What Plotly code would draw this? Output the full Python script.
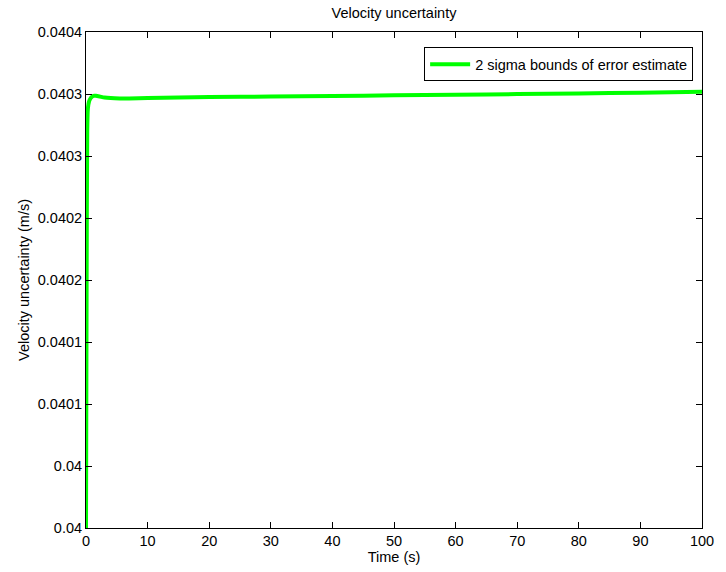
import plotly.graph_objects as go

# Time samples (s) and the 2-sigma velocity uncertainty bound (m/s)
time_s = [0, 0.1, 0.2, 0.3, 0.5, 0.8, 1.2, 1.6, 2.2, 3, 4, 5.5, 7, 10,
          15, 20, 30, 40, 50, 60, 70, 80, 90, 100]
sigma_bound = [0.04000, 0.04020, 0.04032, 0.040338, 0.040344, 0.040347,
               0.0403485, 0.0403485, 0.040348, 0.0403472, 0.0403467,
               0.0403464, 0.0403464, 0.0403468, 0.0403472, 0.0403475,
               0.0403479, 0.0403484, 0.0403489, 0.0403494, 0.0403499,
               0.0403505, 0.0403511, 0.0403519]

x_ticks = [0, 10, 20, 30, 40, 50, 60, 70, 80, 90, 100]
y_ticks = [0.04, 0.04005, 0.0401, 0.04015, 0.0402, 0.04025, 0.0403, 0.04035, 0.0404]
y_tick_text = ["0.04", "0.04", "0.0401", "0.0401", "0.0402", "0.0402",
               "0.0403", "0.0403", "0.0404"]

FONT = "Liberation Sans, Arial, Helvetica, sans-serif"
FS = 14.5

fig = go.Figure()
fig.add_trace(go.Scatter(
    x=time_s, y=sigma_bound, mode="lines",
    line=dict(color="#00ff00", width=4, shape="spline", smoothing=0.6),
    name="2 sigma bounds of error estimate",
))

axis_common = dict(
    showgrid=False, zeroline=False, showline=True, linecolor="black",
    linewidth=1, mirror="ticks", ticks="inside", ticklen=6,
    tickcolor="black", tickfont=dict(family=FONT, size=FS, color="black"),
)

fig.update_layout(
    width=726, height=572,
    margin=dict(l=86, r=14, t=32, b=44),
    paper_bgcolor="white", plot_bgcolor="white",
    font=dict(family=FONT, size=FS, color="black"),
    title=dict(text="Velocity uncertainty", x=0.5, xanchor="center",
               xref="paper", y=1, yref="container", yanchor="top",
               pad=dict(t=8), font=dict(family=FONT, size=FS, color="black")),
    xaxis=dict(range=[0, 100], tickvals=x_ticks,
               title=dict(text="Time (s)", standoff=0,
                          font=dict(family=FONT, size=FS)),
               **axis_common),
    yaxis=dict(range=[0.04, 0.0404], tickvals=y_ticks, ticktext=y_tick_text,
               title=dict(text="Velocity uncertainty (m/s)", standoff=4,
                          font=dict(family=FONT, size=FS)),
               **axis_common),
    showlegend=True,
    legend=dict(x=0.9856, y=0.969, xanchor="right", yanchor="top",
                bgcolor="white", bordercolor="black", borderwidth=1,
                font=dict(family=FONT, size=FS, color="black"),
                itemwidth=40),
)

fig.write_html("out.html")
